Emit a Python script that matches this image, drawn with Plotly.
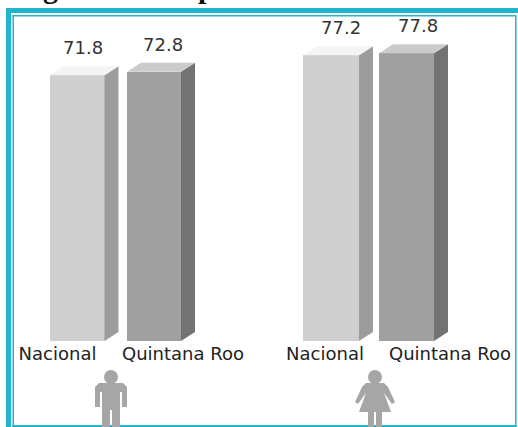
import plotly.graph_objects as go

# Data
categories = ["Nacional", "Quintana Roo", "Nacional", "Quintana Roo"]
values = [71.8, 72.8, 77.2, 77.8]
value_labels = ["71.8", "72.8", "77.2", "77.8"]

# Layout constants (pixels on the 518x427 page)
W, H = 518, 427
BASE = 341
PX_PER_UNIT = 3.70
bar_centers = [77, 154, 331, 406.5]
bar_widths = [55, 54, 56, 55]
label_centers = [57.5, 183, 325, 450]
front = ["#cfcfcf", "#a0a0a0", "#cfcfcf", "#a0a0a0"]
side = ["#9c9c9c", "#737373", "#9c9c9c", "#737373"]
top = ["#f4f4f4", "#cbcbcb", "#f4f4f4", "#cbcbcb"]
DX, DY = 14, 9
TEAL = "#22b5cd"
ICON = "#a6a6a6"
FONT = "DejaVu Sans"


def py(p):
    return (BASE - p) / BASE


def px(p):
    return p / W


def rect(x0, y0, x1, y1, color):
    return dict(type="rect", xref="paper", yref="paper", x0=px(x0), x1=px(x1),
                y0=py(y1), y1=py(y0), fillcolor=color, line_width=0, layer="above")


def path(points, color):
    d = "M" + " L".join(f"{px(a):.5f},{py(b):.5f}" for a, b in points) + " Z"
    return dict(type="path", xref="paper", yref="paper", path=d, fillcolor=color,
                line_width=0, layer="above")


def head(cx, cy, r, color):
    return dict(type="circle", xref="paper", yref="paper", x0=px(cx - r), x1=px(cx + r),
                y0=py(cy + r), y1=py(cy - r), fillcolor=color, line_width=0, layer="above")


fig = go.Figure()
fig.add_trace(go.Bar(x=bar_centers, y=values, width=bar_widths, marker=dict(color=front, line_width=0),
                     showlegend=False, hoverinfo="skip"))

shapes = []
dy_units = DY / PX_PER_UNIT
for c, w, v, s, t in zip(bar_centers, bar_widths, values, side, top):
    r = c + w / 2
    l = c - w / 2
    # side face
    shapes.append(dict(type="path", xref="x", yref="y", fillcolor=s, line_width=0,
                       path=f"M{r},0 L{r + DX},{dy_units} L{r + DX},{v + dy_units} L{r},{v} Z"))
    # top face
    shapes.append(dict(type="path", xref="x", yref="y", fillcolor=t, line_width=0,
                       path=f"M{l},{v} L{l + DX},{v + dy_units} L{r + DX},{v + dy_units} L{r},{v} Z"))

# Frame
shapes += [
    rect(6, 8, W, 13, TEAL),
    rect(6, 8, 11, H, TEAL),
    rect(12.5, 15, W - 2.5, 16.5, TEAL),
    rect(12.5, 15, 14, H, TEAL),
    rect(W - 3, 15, W - 1.5, H, TEAL),
    rect(12.5, H - 2, W - 1.5, H, TEAL),
]

# Man icon
mx = 111
shapes.append(head(mx, 377, 7, ICON))
shapes.append(path([
    (mx - 12, 383), (mx + 12, 383), (mx + 16, 387), (mx + 16, 407), (mx + 11, 407), (mx + 11, 392),
    (mx + 9, 392), (mx + 9, 427), (mx + 1, 427), (mx + 1, 410), (mx - 1, 410), (mx - 1, 427),
    (mx - 9, 427), (mx - 9, 392), (mx - 11, 392), (mx - 11, 407), (mx - 16, 407), (mx - 16, 387),
], ICON))

# Woman icon
wx = 375
shapes.append(head(wx, 377, 7, ICON))
shapes.append(path([
    (wx - 9, 383), (wx + 9, 383), (wx + 13, 387), (wx + 20, 402), (wx + 17, 404), (wx + 9, 393),
    (wx + 16, 412), (wx + 7, 412), (wx + 7, 427), (wx + 1, 427), (wx + 1, 412), (wx - 1, 412),
    (wx - 1, 427), (wx - 7, 427), (wx - 7, 412), (wx - 16, 412), (wx - 9, 393), (wx - 17, 404),
    (wx - 20, 402), (wx - 13, 387),
], ICON))

annotations = [
    dict(x=c, y=v, xref="x", yref="y", text=t, showarrow=False, yanchor="bottom", yshift=15,
         font=dict(family=FONT, size=18, color="#333333"))
    for c, v, t in zip([83, 163, 341, 418], values, value_labels)
]
# Cropped heading fragments at the very top of the image
for x, t in [(41, "g"), (206, "p")]:
    annotations.append(dict(x=px(x), y=py(-13), xref="paper", yref="paper", text="<b>" + t + "</b>", showarrow=False,
                            yanchor="middle", font=dict(family="Liberation Serif", size=30, color="#111111"),
                            ))

fig.update_layout(
    width=W, height=H, autosize=False,
    margin=dict(l=0, r=0, t=0, b=H - BASE, pad=0),
    paper_bgcolor="white", plot_bgcolor="white",
    xaxis=dict(range=[0, W], tickmode="array", tickvals=label_centers, ticktext=categories,
               showgrid=False, zeroline=False, showline=False, ticks="", ticklen=0,
               tickangle=0, tickfont=dict(family=FONT, size=18, color="#222222")),
    yaxis=dict(range=[0, BASE / PX_PER_UNIT], visible=False),
    shapes=shapes, annotations=annotations,
    bargap=0,
)
fig.write_html("out.html", config=dict(displayModeBar=False),
               post_script="document.body.style.margin='0';document.body.style.overflow='hidden';")
